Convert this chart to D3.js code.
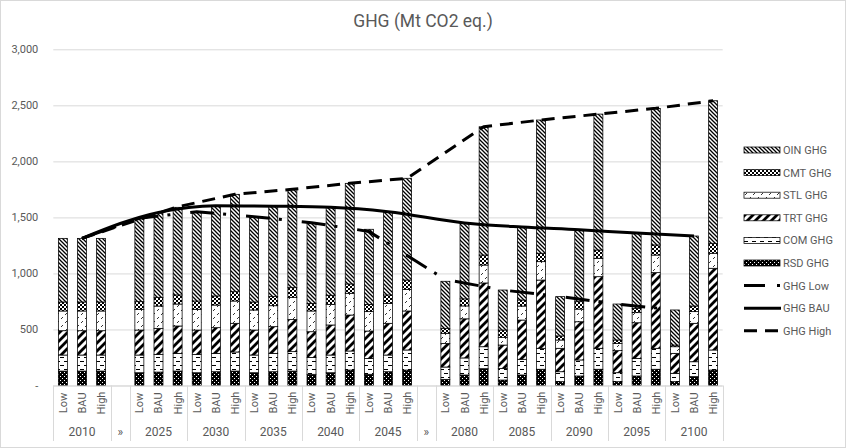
<!DOCTYPE html>
<html><head><meta charset="utf-8">
<script src="https://cdn.jsdelivr.net/npm/d3@7"></script>
<style>
body{margin:0;background:#fff}
svg{display:block}
text{font-family:Roboto,"Liberation Sans",sans-serif;fill:#595959}
</style>
</head><body>
<svg id="chart" width="846" height="448"></svg>
<script>
// ---------- DATA ----------
const groups = ["2010","»","2025","2030","2035","2040","2045","»","2080","2085","2090","2095","2100"];
const scenarios = ["Low","BAU","High"];
const years = ["2010","2025","2030","2035","2040","2045","2080","2085","2090","2095","2100"];
const yTicks = [0,500,1000,1500,2000,2500,3000];
const seriesNames = ["RSD GHG","COM GHG","TRT GHG","STL GHG","CMT GHG","OIN GHG"];
// each array: for every year, values for Low, BAU, High
const RSD = [129,129,129, 114,120,129, 114,123,129, 114,123,129, 100,114,138, 100,123,138, 55,94,150, 49,94,145, 34,85,145, 34,85,145, 34,79,138];
const COM = [143,143,143, 158,158,158, 164,164,170, 158,164,173, 151,158,170, 142,149,179, 110,152,196, 104,140,187, 89,143,187, 80,157,187, 75,133,179];
const TRT = [217,217,217, 223,232,244, 217,229,256, 223,238,288, 229,268,321, 244,283,348, 211,349,569, 208,350,609, 209,341,639, 197,318,675, 178,343,729];
const STL = [176,176,176, 185,199,196, 185,202,199, 179,187,197, 185,184,194, 173,178,193, 90,115,160, 69,125,164, 74,113,164, 65,90,157, 59,104,134];
const CMT = [80,80,80, 68,78,81, 74,81,83, 71,81,86, 68,81,83, 65,75,83, 44,63,89, 65,54,75, 36,66,74, 30,36,90, 15,50,89];
const OIN = [568,568,568, 744,749,782, 797,803,869, 761,803,878, 720,782,898, 670,743,908, 420,674,1145, 357,649,1189, 351,640,1213, 321,672,1219, 313,625,1272];
// line series, one value per year
const ghgLow  = [1313,1492,1551,1506,1453,1375,945,852,793,727,674];
const ghgBAU  = [1313,1545,1605,1600,1590,1551,1450,1414,1390,1360,1335];
const ghgHigh = [1313,1595,1706,1751,1804,1849,2309,2369,2422,2473,2541];

// ---------- BUILD ----------
const seriesArrays = [RSD,COM,TRT,STL,CMT,OIN];
const svg = d3.select("#chart");
const W = 846, H = 448;
const pLeft = 53.3, pRight = 722.7, pTop = 49.3, pBottom = 385.5;

// slot keys
const slots = [];
groups.forEach((g,gi)=>{
  if (g === "»") slots.push("gap"+gi);
  else scenarios.forEach(s=>slots.push(g+"|"+s));
});

const x = d3.scaleBand().domain(slots).range([pLeft,pRight]).paddingInner(0.53).paddingOuter(0.265);
const step = x.step();
const cx = k => x(k) + x.bandwidth()/2;
const y = d3.scaleLinear().domain([0,3000]).range([pBottom,pTop]);

// patterns
const defs = svg.append("defs");
function pat(id,w,h,draw){
  const p = defs.append("pattern").attr("id",id).attr("patternUnits","userSpaceOnUse").attr("width",w).attr("height",h);
  draw(p);
}
pat("pRSD",4,4,p=>{
  p.append("rect").attr("width",4).attr("height",4).attr("fill","#000");
  p.append("rect").attr("x",0).attr("y",0).attr("width",1).attr("height",1).attr("fill","#fff");
  p.append("rect").attr("x",2).attr("y",2).attr("width",1).attr("height",1).attr("fill","#fff");
});
pat("pCOM",8,8,p=>{
  p.append("rect").attr("width",8).attr("height",8).attr("fill","#fff");
  p.append("rect").attr("x",0).attr("y",1).attr("width",4).attr("height",1).attr("fill","#000");
  p.append("rect").attr("x",4).attr("y",5).attr("width",4).attr("height",1).attr("fill","#000");
});
pat("pTRT",8,8,p=>{
  p.append("rect").attr("width",8).attr("height",8).attr("fill","#fff");
  p.append("path").attr("d","M-2,10 L10,-2 M-6,6 L6,-6 M2,14 L14,2").attr("stroke","#000").attr("stroke-width",2.8);
});
pat("pSTL",8,8,p=>{
  p.append("rect").attr("width",8).attr("height",8).attr("fill","#fff");
  p.append("path").attr("d","M1,3 L3,1 M5,7 L7,5").attr("stroke","#000").attr("stroke-width",0.8);
});
pat("pCMT",4,4,p=>{
  p.append("rect").attr("width",4).attr("height",4).attr("fill","#fff");
  p.append("rect").attr("x",0).attr("y",0).attr("width",2).attr("height",2).attr("fill","#000");
  p.append("rect").attr("x",2).attr("y",2).attr("width",2).attr("height",2).attr("fill","#000");
});
pat("pOIN",4,4,p=>{
  p.append("rect").attr("width",4).attr("height",4).attr("fill","#fff");
  p.append("path").attr("d","M-1,-1 L5,5 M-1,3 L1,5 M3,-1 L5,1").attr("stroke","#000").attr("stroke-width",1.3);
});
const fills = ["url(#pRSD)","url(#pCOM)","url(#pTRT)","url(#pSTL)","url(#pCMT)","url(#pOIN)"];

// chart border
svg.append("rect").attr("x",0.5).attr("y",0.5).attr("width",W-1).attr("height",H-1)
  .attr("fill","#fff").attr("stroke","#d9d9d9");

// title
svg.append("text").attr("x",423).attr("y",27).attr("text-anchor","middle")
  .style("font-size","17.5px").text("GHG (Mt CO2 eq.)");

// gridlines + y axis
const yAxis = d3.axisLeft(y).tickValues(yTicks).tickSize(-(pRight-pLeft)).tickPadding(15)
  .tickFormat(d=> d===0 ? "-" : d3.format(",")(d));
const ga = svg.append("g").attr("transform",`translate(${pLeft},0)`).call(yAxis);
ga.select(".domain").remove();
ga.selectAll(".tick line").attr("stroke","#d9d9d9").attr("stroke-width",1);
ga.selectAll(".tick text").style("font-size","11px").attr("fill","#595959").style("font-family","Roboto,sans-serif");

// stacked bars
const rows = [];
years.forEach((yr,yi)=>scenarios.forEach((s,si)=>{
  const r = {key: yr+"|"+s};
  seriesNames.forEach((n,ni)=> r[n] = seriesArrays[ni][yi*3+si]);
  rows.push(r);
}));
const stacked = d3.stack().keys(seriesNames)(rows);
stacked.forEach((layer,li)=>{
  svg.append("g").selectAll("rect").data(layer).join("rect")
    .attr("x",d=>x(d.data.key)).attr("width",x.bandwidth())
    .attr("y",d=>y(d[1])).attr("height",d=>y(d[0])-y(d[1]))
    .attr("fill",fills[li]).attr("stroke","#000").attr("stroke-width",0.75);
});

// lines
const lineKey = (yr,s) => yr==="2010" ? "2010|BAU" : yr+"|"+s;
const lineDefs = [
  {vals:ghgLow, s:"Low", dash:"24,9,3,20", name:"GHG Low", curve:d3.curveLinear},
  {vals:ghgBAU, s:"BAU", dash:null, name:"GHG BAU", curve:d3.curveMonotoneX},
  {vals:ghgHigh, s:"High", dash:"13,8", name:"GHG High", curve:d3.curveLinear}
];
lineDefs.forEach(L=>{
  const lineGen = d3.line().x(d=>cx(d[0])).y(d=>y(d[1])).curve(L.curve);
  const pts = years.map((yr,i)=>[lineKey(yr,L.s), L.vals[i]]);
  svg.append("path").attr("d",lineGen(pts)).attr("fill","none").attr("stroke","#000")
    .attr("stroke-width",3).attr("stroke-linejoin","round").attr("stroke-dasharray",L.dash);
});

// category axis
const axG = svg.append("g");
axG.append("line").attr("x1",pLeft).attr("x2",pRight).attr("y1",pBottom+0.5).attr("y2",pBottom+0.5).attr("stroke","#d9d9d9");
let boundaries = [];
groups.forEach((g,gi)=>{
  const keys = g==="»" ? ["gap"+gi] : scenarios.map(s=>g+"|"+s);
  const x0 = x(keys[0]) - (step - x.bandwidth())/2;
  const x1 = x(keys[keys.length-1]) + x.bandwidth() + (step - x.bandwidth())/2;
  boundaries.push(x0, x1);
  axG.append("text").attr("x",(x0+x1)/2).attr("y",436).attr("text-anchor","middle")
    .style("font-size","12px").text(g);
  if (g!=="»") keys.forEach(k=>{
    const s = k.split("|")[1];
    axG.append("text").attr("transform",`translate(${cx(k)+4},403) rotate(-90)`)
      .attr("text-anchor","middle").style("font-size","11px").text(s);
  });
});
boundaries = Array.from(new Set(boundaries.map(b=>Math.round(b))));
boundaries.forEach(b=>{
  axG.append("line").attr("x1",b+0.5).attr("x2",b+0.5)
    .attr("y1",pBottom).attr("y2",441).attr("stroke","#d9d9d9");
});

// legend
const legX = 744, legY0 = 150, legStep = 22.6;
const legendItems = ["OIN GHG","CMT GHG","STL GHG","TRT GHG","COM GHG","RSD GHG","GHG Low","GHG BAU","GHG High"];
legendItems.forEach((name,i)=>{
  const yy = legY0 + i*legStep;
  const si = seriesNames.indexOf(name);
  if (si>=0){
    svg.append("rect").attr("x",legX).attr("y",yy-3).attr("width",36).attr("height",6)
      .attr("fill",fills[si]).attr("stroke","#000").attr("stroke-width",0.75);
  } else {
    const L = lineDefs.find(l=>l.name===name);
    svg.append("line").attr("x1",legX).attr("x2",legX+37).attr("y1",yy).attr("y2",yy)
      .attr("stroke","#000").attr("stroke-width",3)
      .attr("stroke-dasharray", name==="GHG Low" ? "21,12,3,20" : L.dash);
  }
  svg.append("text").attr("x",legX+39).attr("y",yy+4).style("font-size","11px").text(name);
});
</script>
</body></html>
